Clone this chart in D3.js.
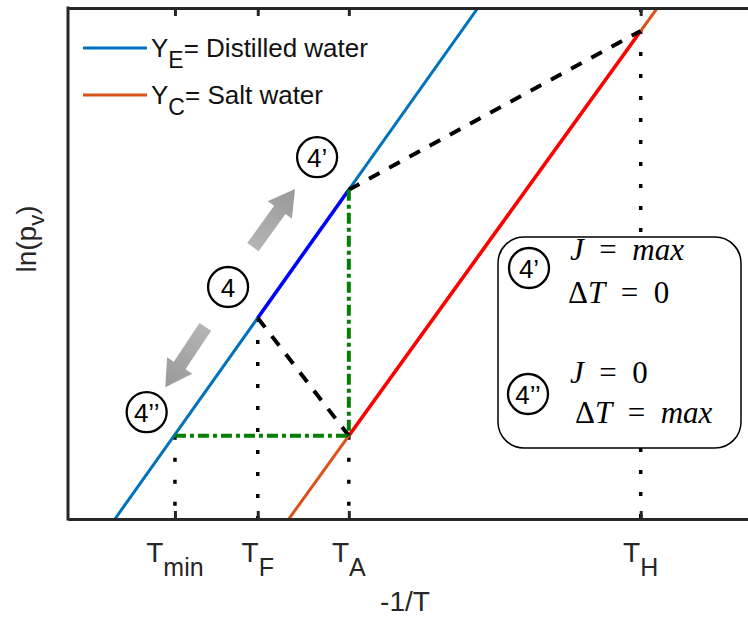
<!DOCTYPE html>
<html>
<head>
<meta charset="utf-8">
<script src="https://cdn.jsdelivr.net/npm/d3@7"></script>
<style>
  body { margin: 0; background: #fff; }
  svg { display: block; font-family: "Liberation Sans", Arial, sans-serif; }
</style>
</head>
<body>
<div id="chart"></div>
<script>
// x is -1/T and y is ln(p_v), both in arbitrary units (0..10)
const tickNames = ["min", "F", "A", "H"];
const tickValues = [1.55, 2.75, 4.07, 8.3];
const tmin = tickValues[0], tF = tickValues[1], tA = tickValues[2], tH = tickValues[3];

// the two vapour pressure lines, as end points
const distilledX = [0.68, 5.94], distilledY = [0, 10];
const saltX = [3.2, 8.54], saltY = [0, 10];

const legendLabels = [["E", "= Distilled water"], ["C", "= Salt water"]];
const legendColors = ["#0072BD", "#D95319"];

// circled state labels on the plot: [label, x, y]
const stateLabels = [["4\u2019", 3.61, 7.08], ["4", 2.32, 4.54], ["4\u2019\u2019", 1.14, 2.09]];
// grey arrows: [tailX, tailY, tipX, tipY]
const arrowsData = [[2.68, 5.32, 3.29, 6.46], [1.99, 3.76, 1.41, 2.58]];

var width = 748, height = 624;
var mLeft = 68, mTop = 8, mBottom = 519, mRight = 758;

var x = d3.scaleLinear().domain([0, 10]).range([mLeft, mRight]);
var y = d3.scaleLinear().domain([0, 10]).range([mBottom, mTop]);

function at(xs, ys, xv) {
  return ys[0] + (ys[1] - ys[0]) * (xv - xs[0]) / (xs[1] - xs[0]);
}
const E = xv => at(distilledX, distilledY, xv);
const C = xv => at(saltX, saltY, xv);

var svg = d3.select("#chart").append("svg")
  .attr("width", width)
  .attr("height", height);

var defs = svg.append("defs");
defs.append("clipPath").attr("id", "plot")
  .append("rect").attr("x", mLeft).attr("y", mTop).attr("width", mRight - mLeft).attr("height", mBottom - mTop);
var grad = defs.append("linearGradient").attr("id", "grey").attr("x1", "0").attr("x2", "1");
grad.append("stop").attr("offset", "0").attr("stop-color", "#b4b4b4");
grad.append("stop").attr("offset", "1").attr("stop-color", "#999");

var plot = svg.append("g").attr("clip-path", "url(#plot)");

var line = d3.line().x(d => x(d[0])).y(d => y(d[1]));

function seg(pts, color, w, dash) {
  plot.append("path")
    .attr("d", line(pts))
    .attr("fill", "none")
    .attr("stroke", color)
    .attr("stroke-width", w)
    .attr("stroke-dasharray", dash || null);
}

// dotted guides
seg([[tmin, C(tA)], [tmin, 0]], "#000", 3.5, "4,18");
seg([[tF, E(tF)], [tF, 0]], "#000", 3.5, "4,18");
seg([[tA, C(tA)], [tA, 0]], "#000", 3.5, "4,18");
seg([[tH, 10], [tH, 0]], "#000", 3.5, "4,18");

// main lines
seg(d3.zip(distilledX, distilledY), legendColors[0], 3);
seg(d3.zip(saltX, saltY), legendColors[1], 3);
seg([[tA, C(tA)], [tH, C(tH)]], "#FF0000", 3.5);
seg([[tF, E(tF)], [tA, E(tA)]], "#0000FF", 3.5);

// dashed links
seg([[tA, E(tA)], [tH, C(tH)]], "#000", 4, "12,11");
seg([[tF, E(tF)], [tA, C(tA)]], "#000", 4, "12,11");

// green dash-dot
seg([[tA, E(tA)], [tA, C(tA)]], "#008000", 4, "11,4,4,4");
seg([[tmin, C(tA)], [tA, C(tA)]], "#008000", 4, "11,4,4,4");

// grey arrows
arrowsData.forEach(a => {
  var x0 = x(a[0]), y0 = y(a[1]), x1 = x(a[2]), y1 = y(a[3]);
  var len = Math.hypot(x1 - x0, y1 - y0);
  var ang = Math.atan2(y1 - y0, x1 - x0) * 180 / Math.PI;
  var hl = 26, sw = 7, hw = 15;
  plot.append("path")
    .attr("transform", `translate(${x0},${y0}) rotate(${ang})`)
    .attr("d", `M0,${-sw}L${len - hl},${-sw}L${len - hl},${-hw}L${len},0L${len - hl},${hw}L${len - hl},${sw}L0,${sw}Z`)
    .attr("fill", "url(#grey)");
});

function circled(g, cx, cy, label) {
  g.append("circle").attr("cx", cx).attr("cy", cy).attr("r", 20)
    .attr("fill", "#fff").attr("stroke", "#000").attr("stroke-width", 2.3);
  g.append("text").attr("x", cx).attr("y", cy + 9.5)
    .attr("text-anchor", "middle").attr("font-size", 26).text(label);
}

stateLabels.forEach(s => circled(svg, x(s[1]), y(s[2]), s[0]));

// condition box
var box = svg.append("g");
box.append("rect").attr("x", 498).attr("y", 237).attr("width", 243).attr("height", 211)
  .attr("rx", 26).attr("fill", "#fff").attr("stroke", "#000").attr("stroke-width", 1.5);
circled(box, 529, 268, "4\u2019");
circled(box, 528, 394, "4\u2019\u2019");

function mathText(px, py, parts) {
  var t = box.append("text").attr("x", px).attr("y", py)
    .attr("font-family", "'Liberation Serif', 'DejaVu Serif', serif")
    .attr("font-size", 31).style("white-space", "pre");
  parts.forEach(p => t.append("tspan").attr("font-style", p[1] ? "italic" : "normal").text(p[0]));
}
mathText(570, 260, [["J", 1], ["\u2002=\u2002", 0], ["max", 1]]);
mathText(568, 303, [["\u0394", 0], ["T", 1], ["\u2002=\u2002", 0], ["0", 0]]);
mathText(570, 383, [["J", 1], ["\u2002=\u2002", 0], ["0", 0]]);
mathText(575, 423, [["\u0394", 0], ["T", 1], ["\u2002=\u2002", 0], ["max", 1]]);

// legend
legendLabels.forEach((l, i) => {
  var ly = 48 + i * 47;
  svg.append("line").attr("x1", 83).attr("x2", 147).attr("y1", ly).attr("y2", ly)
    .attr("stroke", legendColors[i]).attr("stroke-width", 3);
  var t = svg.append("text").attr("x", 151).attr("y", ly + 9).attr("font-size", 26).attr("fill", "#111");
  t.append("tspan").text("Y");
  t.append("tspan").attr("dy", 11).attr("font-size", 23).text(l[0]);
  t.append("tspan").attr("dy", -11).text(l[1]);
});

// axes (MATLAB box style, ticks inside)
var xAxis = d3.axisBottom(x).tickValues(tickValues).tickSize(-8).tickSizeOuter(0).tickFormat("");
var xTop = d3.axisTop(x).tickValues(tickValues).tickSize(-8).tickSizeOuter(0).tickFormat("");

function styleAxis(g) {
  g.selectAll("path, line").attr("stroke", "#262626").attr("stroke-width", 3);
}
svg.append("g").attr("transform", "translate(0," + mBottom + ")").call(xAxis).call(styleAxis);
svg.append("g").attr("transform", "translate(0," + mTop + ")").call(xTop).call(styleAxis);
svg.append("line").attr("x1", mLeft).attr("x2", mLeft).attr("y1", mTop - 1.5).attr("y2", mBottom + 1.5)
  .attr("stroke", "#262626").attr("stroke-width", 3);

// tick labels with subscripts
tickValues.forEach((v, i) => {
  var t = svg.append("text").attr("x", x(v)).attr("y", 562)
    .attr("text-anchor", "middle").attr("font-size", 28).attr("fill", "#262626");
  t.append("tspan").text("T");
  t.append("tspan").attr("dy", 14).attr("font-size", 25).text(tickNames[i]);
});

svg.append("text").attr("x", 405).attr("y", 611).attr("text-anchor", "middle")
  .attr("font-size", 28).attr("fill", "#262626").text("-1/T");

var yl = svg.append("text").attr("transform", "translate(36,239) rotate(-90)")
  .attr("text-anchor", "middle").attr("font-size", 28).attr("fill", "#262626");
yl.append("tspan").text("ln(p");
yl.append("tspan").attr("dy", 8).attr("font-size", 22).text("v");
yl.append("tspan").attr("dy", -8).text(")");
</script>
</body>
</html>
